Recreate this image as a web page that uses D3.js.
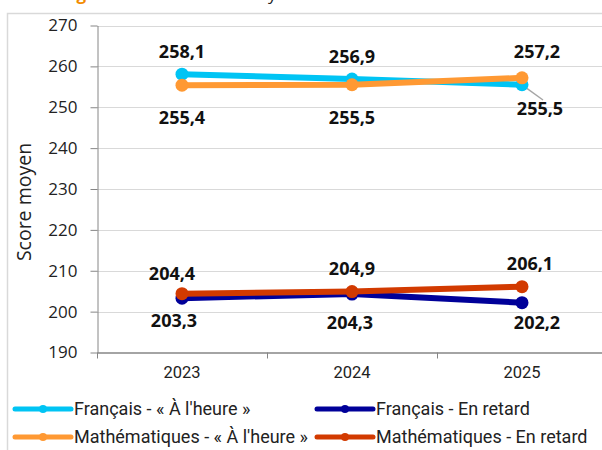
<!DOCTYPE html>
<html><head><meta charset="utf-8">
<script src="https://cdn.jsdelivr.net/npm/d3@7"></script>
<style>body{margin:0;background:#fff}svg{display:block}</style>
</head><body>
<svg id="c" width="602" height="450"></svg>
<script>
const years = ["2023","2024","2025"];
const yTicks = [190,200,210,220,230,240,250,260,270];
const frHeure = [258.1, 256.9, 255.5];
const frRetard = [203.3, 204.3, 202.2];
const mathHeure = [255.4, 255.5, 257.2];
const mathRetard = [204.4, 204.9, 206.1];
const seriesNames = ["Français - « À l'heure »","Français - En retard","Mathématiques - « À l'heure »","Mathématiques - En retard"];

const series = [
  {name: seriesNames[0], values: frHeure, color: "#00c4f4", pos: ["a","a","b"]},
  {name: seriesNames[2], values: mathHeure, color: "#ff9933", pos: ["b","b","a"]},
  {name: seriesNames[1], values: frRetard, color: "#000099", pos: ["b","b","b"]},
  {name: seriesNames[3], values: mathRetard, color: "#d23a00", pos: ["a","a","a"]}
];
// label offsets (dx, dy of text centre relative to point)
const offs = {
  a: [0, -23], b: [0, 31]
};
const special = {"0-2": [18, 24], "1-2": [15, -26], "2-0": [-8, 22], "2-1": [-2, 28], "2-2": [15, 20], "3-0": [-10, -20], "3-2": [8, -23], "1-0":[0,32],"1-1":[0,33]};

const svg = d3.select("#c");
const L = 97, R = 607, T = 25.5, B = 352.5;
const x = d3.scaleBand().domain(years).range([L, R]);
const y = d3.scaleLinear().domain([190, 270]).range([B, T]);

// title remnants (cut off at top, as in the reference)
svg.append("text").attr("x", 62).attr("y", 0).attr("font-family","Open Sans").attr("font-weight","bold")
  .attr("font-size", 17).attr("fill","#f28c00").text("Figure");
svg.append("text").attr("x", 268).attr("y", 0).attr("font-family","Open Sans")
  .attr("font-size", 17).attr("fill","#222").text("y");

// outer border
svg.append("path").attr("d", "M7.5,450 V13.5 H602").attr("fill","none").attr("stroke","#d9d9d9").attr("stroke-width",1.5);

// gridlines
svg.append("g").selectAll("line").data(yTicks.filter(d=>d>190)).join("line")
  .attr("x1", L).attr("x2", 602).attr("y1", d=>Math.round(y(d))+0.5).attr("y2", d=>Math.round(y(d))+0.5)
  .attr("stroke","#d9d9d9").attr("stroke-width",1);

// y axis
const ya = svg.append("g").attr("transform", `translate(${L+0.5},0)`)
  .call(d3.axisLeft(y).tickValues(yTicks).tickSize(7).tickPadding(13).tickSizeOuter(0));
ya.select(".domain").attr("stroke","#868686");
ya.selectAll(".tick line").attr("stroke","#868686");
ya.selectAll(".tick text").attr("font-family","Open Sans").attr("font-size",17).attr("fill","#222");

// x axis
const xa = svg.append("g").attr("transform", `translate(0,${B})`)
  .call(d3.axisBottom(x).tickSize(0).tickPadding(14).tickSizeOuter(0));
xa.select(".domain").attr("stroke","#868686").attr("stroke-width",1.3);
xa.selectAll(".tick text").attr("font-family","Roboto").attr("font-size",16.5).attr("fill","#222");
svg.append("g").selectAll("line").data([L, ...years.map(d=>x(d)+x.bandwidth())]).join("line")
  .attr("x1", d=>d+0.5).attr("x2", d=>d+0.5).attr("y1", B).attr("y2", B+6).attr("stroke","#868686");

// y title
svg.append("text").attr("transform", `translate(31,${(T+B)/2 + 13}) rotate(-90)`)
  .attr("text-anchor","middle").attr("font-family","Open Sans").attr("font-size",19.5).attr("fill","#222")
  .text("Score moyen");

const cx = d => x(d) + x.bandwidth()/2;
const line = d3.line().x((d,i)=>cx(years[i])).y(d=>y(d));

// leader line for 255,5
svg.append("line").attr("x1", cx("2025")).attr("y1", y(255.5)).attr("x2", 543).attr("y2", 100)
  .attr("stroke","#a6a6a6").attr("stroke-width",1.5);

const drawOrder = [0, 2, 1, 3];
drawOrder.forEach(si => {
  const s = series[si];
  const g = svg.append("g");
  g.append("path").attr("d", line(s.values)).attr("fill","none").attr("stroke", s.color)
    .attr("stroke-width", 6).attr("stroke-linejoin","round");
  g.selectAll("circle").data(s.values).join("circle")
    .attr("cx", (d,i)=>cx(years[i])).attr("cy", d=>y(d)).attr("r", 6.5).attr("fill", s.color);
});

series.forEach((s, si) => {
  svg.append("g").selectAll("text").data(s.values).join("text")
    .attr("x", (d,i)=> cx(years[i]) + (special[si+"-"+i] || offs[s.pos[i]])[0])
    .attr("y", (d,i)=> y(d) + (special[si+"-"+i] || offs[s.pos[i]])[1])
    .attr("dy","0.36em").attr("text-anchor","middle")
    .attr("font-family","Open Sans").attr("font-weight","bold").attr("font-size",18).attr("fill","#111")
    .text(d => d3.format(".1f")(d).replace(".", ","));
});

// legend
const legend = [
  {name: seriesNames[0], color: series[0].color, x: 15, y: 409},
  {name: seriesNames[1], color: series[2].color, x: 317, y: 409},
  {name: seriesNames[2], color: series[1].color, x: 15, y: 437},
  {name: seriesNames[3], color: series[3].color, x: 317, y: 437}
];
const lg = svg.append("g").selectAll("g").data(legend).join("g").attr("transform", d=>`translate(${d.x},${d.y})`);
lg.append("line").attr("x1",0).attr("x2",56).attr("stroke", d=>d.color).attr("stroke-width",5).attr("stroke-linecap","round");
lg.append("circle").attr("cx",28).attr("r",4).attr("fill", d=>d.color);
lg.append("text").attr("x",59).attr("dy","0.36em").attr("font-family","Roboto").attr("font-size",18).attr("fill","#222").text(d=>d.name);
</script>
</body></html>
